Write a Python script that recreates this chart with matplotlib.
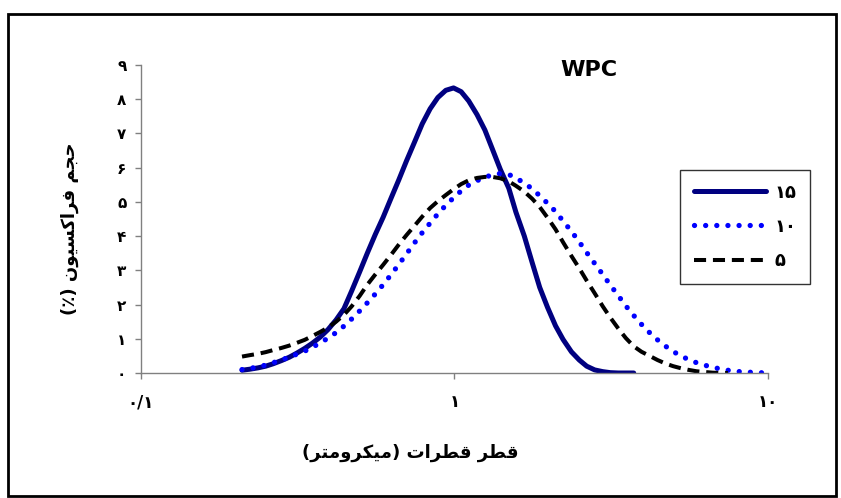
import numpy as np
import matplotlib
matplotlib.use("Agg")
import matplotlib.pyplot as plt
from matplotlib.patches import Rectangle

# droplet size classes (micrometre), 40 per decade
size_um = [0.210, 0.222, 0.236, 0.250, 0.264, 0.280, 0.297, 0.314, 0.333, 0.352,
           0.373, 0.395, 0.419, 0.444, 0.470, 0.498, 0.527, 0.559, 0.592, 0.627,
           0.664, 0.703, 0.745, 0.789, 0.836, 0.885, 0.938, 0.993, 1.05, 1.11,
           1.18, 1.25, 1.32, 1.40, 1.49, 1.57, 1.67, 1.77, 1.87, 1.98,
           2.10, 2.22, 2.36, 2.50, 2.64, 2.80, 2.97, 3.14, 3.33, 3.52,
           3.73, 3.95, 4.19, 4.44, 4.70, 4.98, 5.27, 5.59, 5.92, 6.27,
           6.64, 7.03, 7.45, 7.89, 8.36, 8.85, 9.38, 9.93]

# volume fraction (%) per sample
vol_15 = [0.08, 0.11, 0.15, 0.20, 0.27, 0.36, 0.46, 0.58, 0.72, 0.87,
          1.05, 1.27, 1.55, 1.88, 2.40, 2.95, 3.50, 4.05, 4.55, 5.10,
          5.64, 6.20, 6.74, 7.28, 7.72, 8.05, 8.26, 8.33, 8.22, 7.95,
          7.55, 7.10, 6.55, 5.95, 5.40, 4.70, 4.00, 3.22, 2.50, 1.92,
          1.38, 0.98, 0.62, 0.38, 0.20, 0.09, 0.04, 0.01, 0.0, 0.0,
          0.0, None, None, None, None, None, None, None, None, None,
          None, None, None, None, None, None, None, None]

vol_10 = [0.10, 0.13, 0.18, 0.23, 0.30, 0.38, 0.46, 0.55, 0.64, 0.75,
          0.88, 1.02, 1.18, 1.37, 1.58, 1.81, 2.05, 2.31, 2.58, 2.87,
          3.17, 3.48, 3.80, 4.10, 4.38, 4.65, 4.90, 5.12, 5.32, 5.49,
          5.62, 5.72, 5.79, 5.83, 5.80, 5.70, 5.55, 5.38, 5.18, 4.96,
          4.72, 4.44, 4.14, 3.83, 3.52, 3.20, 2.88, 2.57, 2.26, 1.96,
          1.68, 1.42, 1.18, 0.97, 0.79, 0.63, 0.50, 0.39, 0.30, 0.23,
          0.17, 0.12, 0.08, 0.05, 0.03, 0.02, 0.01, 0.0]

vol_5 = [0.48, 0.52, 0.56, 0.61, 0.67, 0.73, 0.80, 0.88, 0.97, 1.08,
         1.20, 1.33, 1.50, 1.70, 1.95, 2.25, 2.58, 2.88, 3.16, 3.45,
         3.75, 4.03, 4.30, 4.57, 4.82, 5.02, 5.20, 5.37, 5.52, 5.63,
         5.70, 5.73, 5.73, 5.69, 5.60, 5.47, 5.30, 5.09, 4.85, 4.54,
         4.20, 3.82, 3.42, 3.06, 2.70, 2.33, 1.95, 1.62, 1.30, 1.02,
         0.78, 0.62, 0.50, 0.38, 0.28, 0.20, 0.14, 0.09, 0.05, 0.03,
         0.01, 0.0, 0.0, None, None, None, None, None]

series_names = ["15", "10", "5"]
y_ticks = list(range(10))
x_ticks = [0.1, 1, 10]
x_tick_labels = ["۰/۱", "۱", "۱۰"]

title = "WPC"
x_label = "قطر قطرات (میکرومتر)"
y_label = "حجم فراکسیون (٪)"

FA_DIGITS = "۰۱۲۳۴۵۶۷۸۹"


def fa_num(s):
    return "".join(FA_DIGITS[int(c)] if c.isdigit() else c for c in str(s))


# contextual forms: isolated, final, initial, medial
FORMS = {
    "ا": ("\uFE8D", "\uFE8E", None, None),
    "ت": ("\uFE95", "\uFE96", "\uFE97", "\uFE98"),
    "ج": ("\uFE9D", "\uFE9E", "\uFE9F", "\uFEA0"),
    "ح": ("\uFEA1", "\uFEA2", "\uFEA3", "\uFEA4"),
    "ر": ("\uFEAD", "\uFEAE", None, None),
    "س": ("\uFEB1", "\uFEB2", "\uFEB3", "\uFEB4"),
    "ط": ("\uFEC1", "\uFEC2", "\uFEC3", "\uFEC4"),
    "ف": ("\uFED1", "\uFED2", "\uFED3", "\uFED4"),
    "ق": ("\uFED5", "\uFED6", "\uFED7", "\uFED8"),
    "ک": ("\uFED9", "\uFEDA", "\uFEDB", "\uFEDC"),
    "م": ("\uFEE1", "\uFEE2", "\uFEE3", "\uFEE4"),
    "ن": ("\uFEE5", "\uFEE6", "\uFEE7", "\uFEE8"),
    "و": ("\uFEED", "\uFEEE", None, None),
    "ی": ("\uFEEF", "\uFEF0", "\uFEF3", "\uFEF4"),
}
MIRROR = {"(": ")", ")": "("}


def shape_fa(text):
    """
    Pick joined letter forms by hand and flip to visual order (no bidi lib here).
    """
    out = []
    for i, c in enumerate(text):
        if c not in FORMS:
            out.append(MIRROR.get(c, c))
            continue
        prev = text[i - 1] if i > 0 else ""
        nxt = text[i + 1] if i + 1 < len(text) else ""
        join_prev = prev in FORMS and FORMS[prev][2] is not None
        join_next = nxt in FORMS
        iso, fin, ini, med = FORMS[c]
        if join_prev and join_next and med:
            out.append(med)
        elif join_prev:
            out.append(fin)
        elif join_next and ini:
            out.append(ini)
        else:
            out.append(iso)
    return "".join(out[::-1])


def clean(vals):
    return np.array([np.nan if v is None else v for v in vals], dtype=float)


fig = plt.figure(figsize=(8.41, 4.98), dpi=100)
ax = fig.add_axes([141 / 841, 1 - 373 / 498, (768 - 141) / 841, (373 - 65) / 498])

l15, = ax.plot(size_um, clean(vol_15), color="#000080", lw=3.6,
               solid_capstyle="round", solid_joinstyle="round",
               label=fa_num(series_names[0]))
l10, = ax.plot(size_um, clean(vol_10), color="#0000FF", lw=3.8,
               linestyle=(0, (0.01, 2.1)), dash_capstyle="round",
               label=fa_num(series_names[1]))
l5, = ax.plot(size_um, clean(vol_5), color="black", lw=2.9,
              linestyle=(0, (3.0, 1.7)), label=fa_num(series_names[2]))

ax.set_xscale("log")
ax.set_xlim(0.1, 10)
ax.set_ylim(0, 9)
ax.set_xticks(x_ticks)
ax.set_xticklabels(x_tick_labels)
ax.xaxis.set_minor_locator(matplotlib.ticker.NullLocator())
ax.set_yticks(y_ticks)
ax.set_yticklabels([fa_num(t) for t in y_ticks])

for side in ["top", "right"]:
    ax.spines[side].set_visible(False)
for side in ["left", "bottom"]:
    ax.spines[side].set_color("#808080")
    ax.spines[side].set_linewidth(1.0)

ax.tick_params(axis="y", direction="out", length=4.5, width=1, color="#808080",
               pad=6, labelsize=11)
ax.tick_params(axis="x", direction="out", length=4.5, width=1, color="#808080",
               pad=10, labelsize=12)
for lab in ax.get_yticklabels() + ax.get_xticklabels():
    lab.set_fontweight("bold")

fig.text(589 / 841, 1 - 70 / 498, title, ha="center", va="center",
         fontsize=16, fontweight="bold")
fig.text(410 / 841, 1 - 453 / 498, shape_fa(x_label), ha="center", va="center",
         fontsize=13, fontweight="bold")
fig.text(70 / 841, 1 - 229 / 498, shape_fa(y_label), ha="center", va="center",
         rotation=90, fontsize=13, fontweight="bold")

leg = fig.legend(handles=[l15, l10, l5], loc="upper left",
                 bbox_to_anchor=(680 / 841, 1 - 170 / 498), borderaxespad=0,
                 frameon=True, fancybox=False, shadow=False,
                 handlelength=4.0, handletextpad=0.5, labelspacing=0.9,
                 borderpad=0.75, prop={"weight": "bold", "size": 13})
leg.get_frame().set_edgecolor("black")
leg.get_frame().set_linewidth(1.0)

# outer frame around the whole picture
fig.patches.append(Rectangle((8 / 841, 2 / 498), 828 / 841, 482 / 498,
                             transform=fig.transFigure, fill=False,
                             edgecolor="black", lw=2))

fig.savefig("out.png", dpi=100)
